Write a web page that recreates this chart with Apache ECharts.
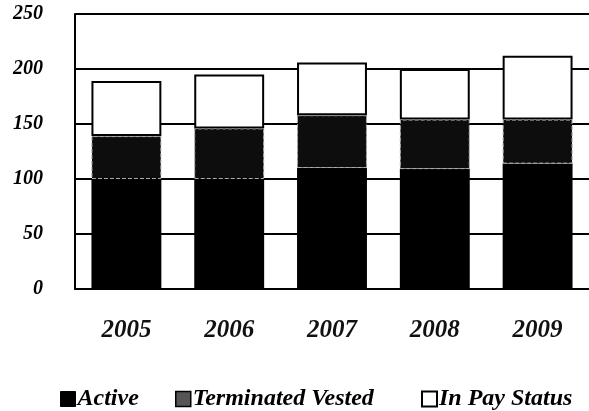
<!DOCTYPE html>
<html>
<head>
<meta charset="utf-8">
<script src="https://cdn.jsdelivr.net/npm/echarts@6/dist/echarts.min.js"></script>
<style>html,body{margin:0;padding:0;background:#fff;}#c{width:589px;height:411px;}</style>
</head>
<body>
<div id="c"></div>
<script>
var categories = ['2005', '2006', '2007', '2008', '2009'];
var active = [100, 100, 110, 109, 114];
var terminatedVested = [39, 46, 48, 45, 40];
var inPayStatus = [50, 49, 48, 46, 58];
var yTicks = [0, 50, 100, 150, 200, 250];
var seriesNames = ['Active', 'Terminated Vested', 'In Pay Status'];

var font = "'Liberation Serif', 'DejaVu Serif', serif";
var legendText = {fontFamily: font, fontSize: 24, fontStyle: 'italic', fontWeight: 'bold', color: '#000', padding: [0,0,0,-3]};
var legendIcons = [
  {color: '#000', borderColor: '#000', borderWidth: 1},
  {color: '#555', borderColor: '#000', borderWidth: 1.5},
  {color: '#fff', borderColor: '#000', borderWidth: 2}
];
var legendLefts = [55, 170, 416];
var legends = seriesNames.map(function (n, i) {
  return {
    left: legendLefts[i], top: 382,
    itemWidth: 15, itemHeight: 15,
    textStyle: legendText,
    data: [{name: n, icon: 'rect', itemStyle: legendIcons[i]}]
  };
});

var chart = echarts.init(document.getElementById('c'), null, {renderer: 'canvas'});
chart.setOption({
  animation: false,
  backgroundColor: '#fff',
  grid: {left: 75, right: -4, top: 14, bottom: 122, containLabel: false},
  legend: legends,
  xAxis: {
    type: 'category', data: categories,
    axisLine: {show: true, lineStyle: {color: '#000', width: 2}},
    axisTick: {show: false},
    axisLabel: {margin: 29, fontFamily: font, fontSize: 25, fontStyle: 'italic', fontWeight: 'bold', color: '#111'}
  },
  yAxis: {
    type: 'value', min: yTicks[0], max: yTicks[yTicks.length - 1], interval: 50,
    axisLine: {show: true, lineStyle: {color: '#000', width: 2}},
    axisTick: {show: false},
    splitLine: {show: true, lineStyle: {color: '#000', width: 2}},
    axisLabel: {margin: 32, padding: [4, 0, 0, 0], fontFamily: font, fontSize: 20, fontStyle: 'italic', fontWeight: 'bold', color: '#000'}
  },
  series: [
    {name: seriesNames[0], type: 'bar', stack: 's', data: active, barCategoryGap: '32%',
     itemStyle: {color: '#000'}},
    {name: seriesNames[1], type: 'bar', stack: 's', data: terminatedVested,
     itemStyle: {color: '#0d0d0d', borderColor: '#aaa', borderWidth: 1, borderType: 'dashed'}},
    {name: seriesNames[2], type: 'bar', stack: 's', data: inPayStatus,
     itemStyle: {color: '#fff', borderColor: '#000', borderWidth: 2}}
  ]
});
</script>
</body>
</html>
